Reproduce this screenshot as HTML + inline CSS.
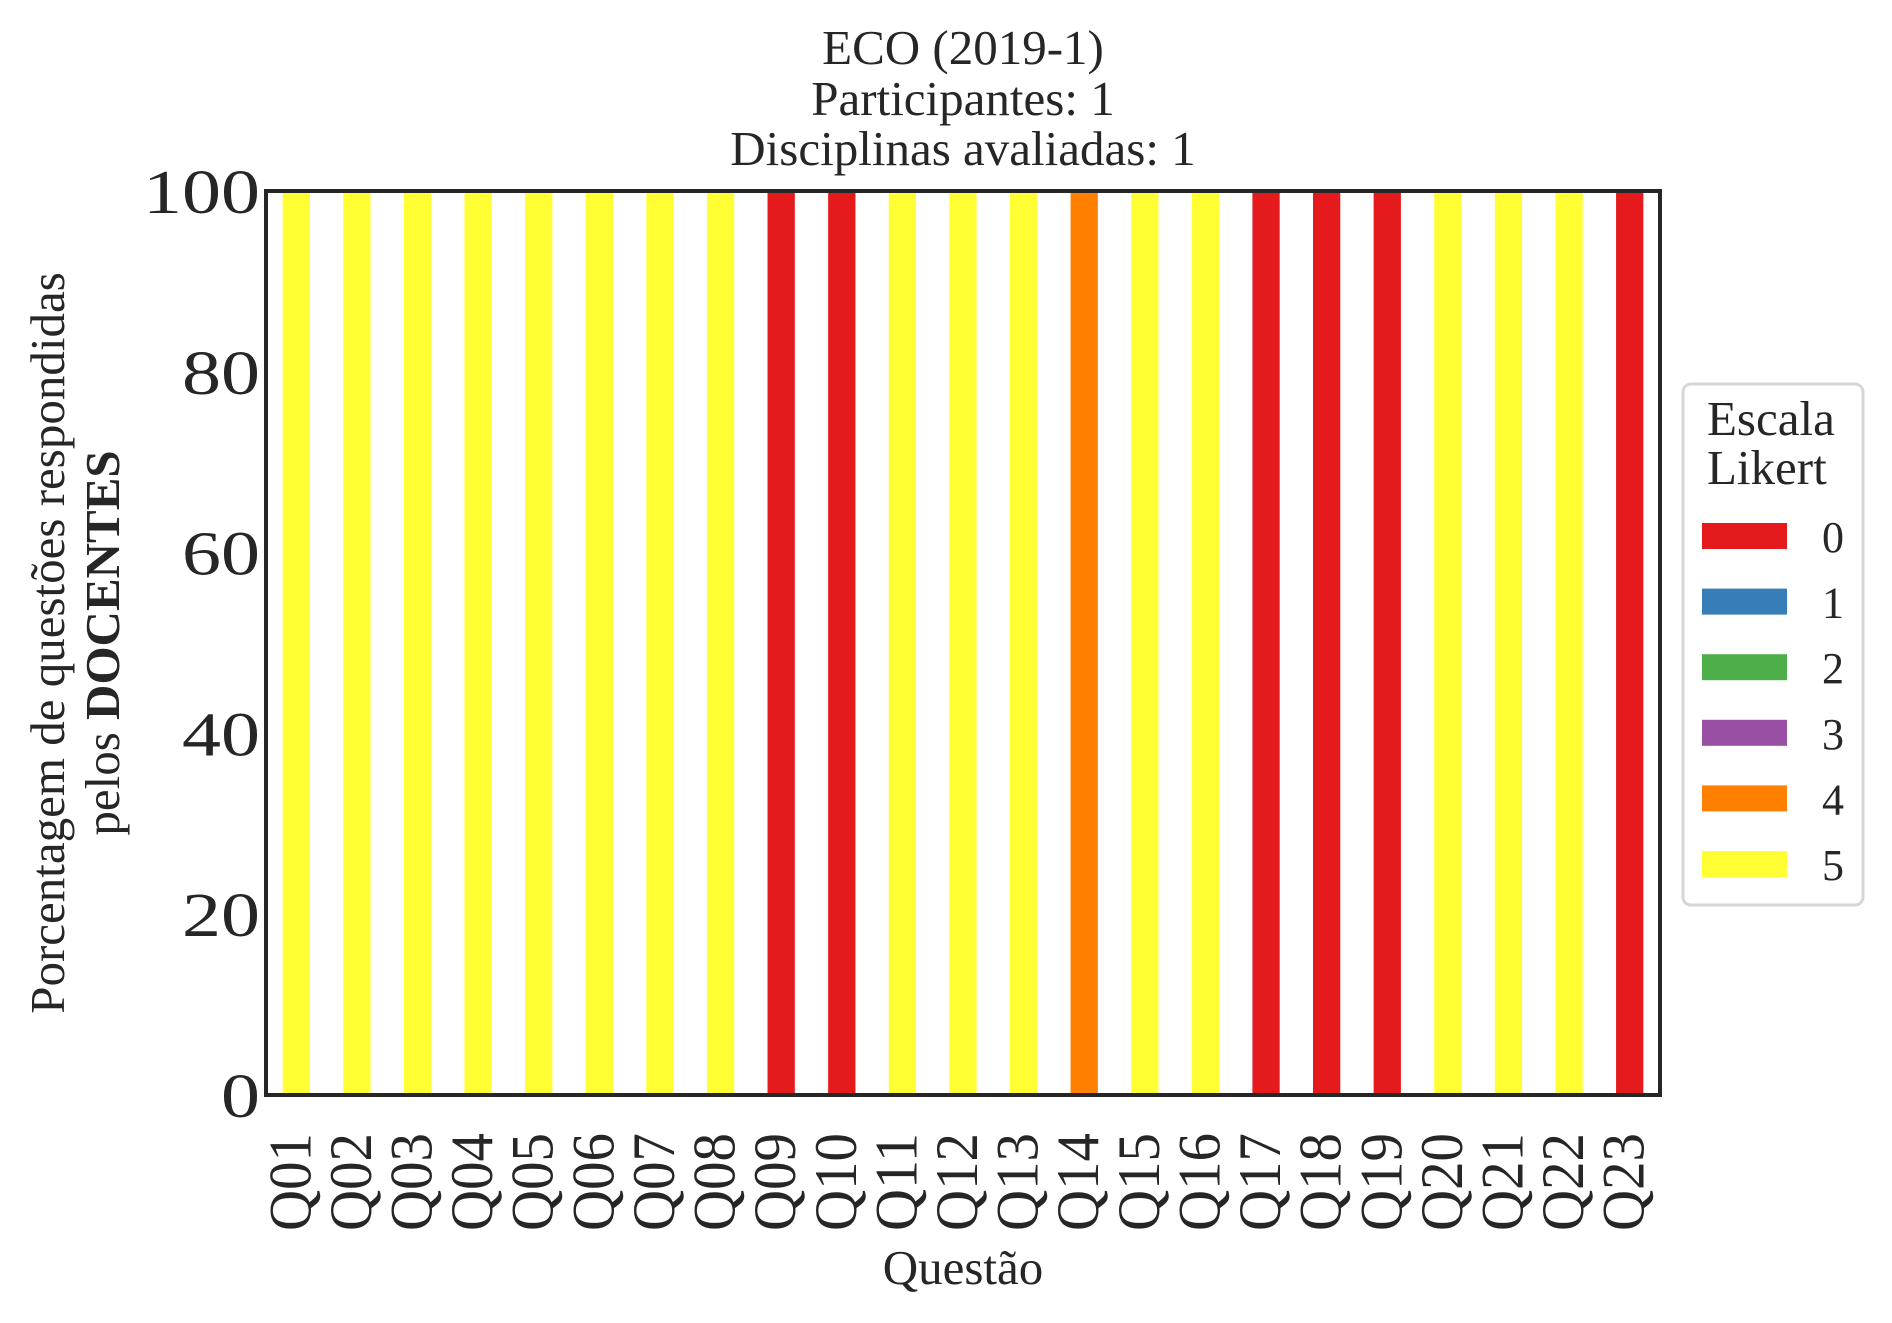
<!DOCTYPE html>
<html><head><meta charset="utf-8"><style>
html,body{margin:0;padding:0;background:#fff;}
svg{display:block;font-family:"Liberation Serif","DejaVu Serif",serif;}
</style></head><body>
<svg id="chart" width="1892" height="1323" viewBox="0 0 1892 1323" xmlns="http://www.w3.org/2000/svg">
<rect x="0" y="0" width="1892" height="1323" fill="#fff"/>
<g id="title" fill="#262626" font-size="49" text-anchor="middle">
<text x="963" y="64">ECO (2019-1)</text>
<text x="963" y="115">Participantes: 1</text>
<text x="963" y="165">Disciplinas avaliadas: 1</text>
</g>
<g id="bars"></g>
<g id="yticks"></g>
<g id="xticks"></g>
<rect x="266" y="191" width="1394" height="904" fill="none" stroke="#262626" stroke-width="4"/>
<g fill="#262626" font-size="49" text-anchor="middle">
<text transform="translate(64,643) rotate(-90)">Porcentagem de questões respondidas</text>
<text transform="translate(119,643) rotate(-90)">pelos <tspan font-weight="bold">DOCENTES</tspan></text>
</g>
<text x="963" y="1284" fill="#262626" font-size="49" text-anchor="middle">Questão</text>
<g id="legend">
<rect x="1683" y="384" width="180" height="521" rx="8" fill="#fff" stroke="#d6d6d6" stroke-width="3"/>
<text x="1707" y="435" fill="#262626" font-size="49">Escala</text>
<text x="1707" y="484" fill="#262626" font-size="49">Likert</text>
</g>
</svg>
<script>
const categories = ["Q01","Q02","Q03","Q04","Q05","Q06","Q07","Q08","Q09","Q10","Q11","Q12","Q13","Q14","Q15","Q16","Q17","Q18","Q19","Q20","Q21","Q22","Q23"];
const levels = ["0","1","2","3","4","5"];
const level0 = [0,0,0,0,0,0,0,0,100,100,0,0,0,0,0,0,100,100,100,0,0,0,100];
const level1 = [0,0,0,0,0,0,0,0,0,0,0,0,0,0,0,0,0,0,0,0,0,0,0];
const level2 = [0,0,0,0,0,0,0,0,0,0,0,0,0,0,0,0,0,0,0,0,0,0,0];
const level3 = [0,0,0,0,0,0,0,0,0,0,0,0,0,0,0,0,0,0,0,0,0,0,0];
const level4 = [0,0,0,0,0,0,0,0,0,0,0,0,0,100,0,0,0,0,0,0,0,0,0];
const level5 = [100,100,100,100,100,100,100,100,0,0,100,100,100,0,100,100,0,0,0,100,100,100,0];
const yTicks = [0,20,40,60,80,100];

const series = [level0,level1,level2,level3,level4,level5];
const colors = ["#e41a1c","#377eb8","#4daf4a","#984ea3","#ff7f00","#ffff33"];
const NS = "http://www.w3.org/2000/svg";
const X0 = 266, X1 = 1660, Y0 = 1095, Y1 = 191;
const n = categories.length;
const step = (X1 - X0) / n;
function xCenter(i){ return X0 + (i + 0.5) * step; }
function yScale(v){ return Y0 - (v / 100) * (Y0 - Y1); }
const barW = step * 0.45;

const bars = document.getElementById('bars');
for (let i = 0; i < n; i++) {
  let acc = 0;
  for (let s = 0; s < series.length; s++) {
    const v = series[s][i];
    if (v <= 0) { continue; }
    const r = document.createElementNS(NS, 'rect');
    r.setAttribute('x', xCenter(i) - barW / 2);
    r.setAttribute('y', yScale(acc + v));
    r.setAttribute('width', barW);
    r.setAttribute('height', yScale(acc) - yScale(acc + v));
    r.setAttribute('fill', colors[s]);
    
    
    bars.appendChild(r);
    acc += v;
  }
}

const yt = document.getElementById('yticks');
yTicks.forEach(function(t){
  const tx = document.createElementNS(NS, 'text');
  tx.setAttribute('x', 260);
  tx.setAttribute('y', yScale(t) + 22);
  tx.setAttribute('text-anchor', 'end');
  tx.setAttribute('font-size', '62');
  tx.setAttribute('fill', '#262626');
  tx.setAttribute('textLength', String(t).length * 39);
  tx.setAttribute('lengthAdjust', 'spacingAndGlyphs');
  tx.textContent = t;
  
  
  yt.appendChild(tx);
});

const xt = document.getElementById('xticks');
categories.forEach(function(c, i){
  const tx = document.createElementNS(NS, 'text');
  tx.setAttribute('transform', 'translate(' + (xCenter(i) + 14) + ',1133) rotate(-90)');
  tx.setAttribute('text-anchor', 'end');
  tx.setAttribute('font-size', '60');
  tx.setAttribute('fill', '#262626');
  tx.setAttribute('textLength', '98');
  tx.setAttribute('lengthAdjust', 'spacingAndGlyphs');
  tx.textContent = c;
  
  
  xt.appendChild(tx);
});

const lg = document.getElementById('legend');
levels.forEach(function(l, k){
  const top = 523 + k * 65.6;
  const r = document.createElementNS(NS, 'rect');
  r.setAttribute('x', 1702);
  r.setAttribute('y', top);
  r.setAttribute('width', 85);
  r.setAttribute('height', 26);
  r.setAttribute('fill', colors[k]);
  
  
  lg.appendChild(r);
  const tx = document.createElementNS(NS, 'text');
  tx.setAttribute('x', 1822);
  tx.setAttribute('y', top + 29);
  tx.setAttribute('font-size', '44');
  tx.setAttribute('fill', '#262626');
  tx.textContent = l;
  
  
  lg.appendChild(tx);
});
</script>
</body></html>
